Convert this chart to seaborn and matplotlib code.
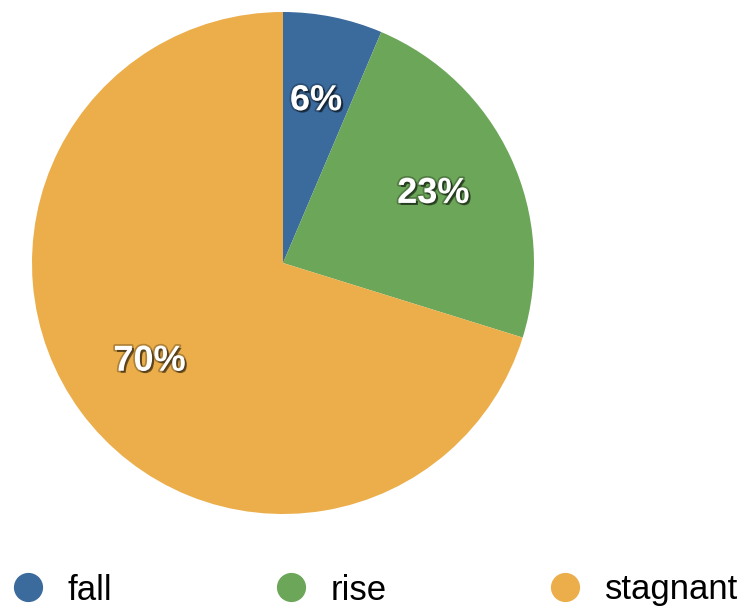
import matplotlib
matplotlib.use('Agg')
import matplotlib.pyplot as plt
import matplotlib.patheffects as pe
from matplotlib.lines import Line2D
import seaborn as sns

# data
labels = ['fall', 'rise', 'stagnant']
values = [6.4, 23.4, 70.2]
colors = ['#3b6a9c', '#6ca659', '#ebae4a']

sns.set_theme(style='white')
plt.rcParams['font.family'] = ['Liberation Sans', 'DejaVu Sans']

fig = plt.figure(figsize=(7.53, 6.11), dpi=100)
ax = fig.add_axes([32 / 753, 97 / 611, 502 / 753, 502 / 611])

wedges, texts, autotexts = ax.pie(
    values, colors=colors, startangle=90, counterclock=False,
    autopct=lambda p: f'{p:.0f}%', pctdistance=0.66,
    wedgeprops=dict(linewidth=0),
    textprops=dict(color='white', fontsize=26, fontweight='bold'))
ax.set_xlim(-1, 1)
ax.set_ylim(-1, 1)
ax.set_aspect('equal')

for t in autotexts:
    t.set_path_effects([
        pe.SimplePatchShadow(offset=(1.5, -1.5), shadow_rgbFace='black', alpha=0.5),
        pe.Stroke(linewidth=2.5, foreground='black', alpha=0.25),
        pe.Normal()])

# legend
handles = [Line2D([0], [0], marker='o', linestyle='', markersize=20,
                  markerfacecolor=c, markeredgecolor=c) for c in colors]
leg = fig.legend(handles, labels, loc='center left', bbox_to_anchor=(6 / 753, 1 - 590 / 611),
                 ncol=3, frameon=False, fontsize=25, handlelength=0.88,
                 handletextpad=0.7, columnspacing=4.7, borderaxespad=0, borderpad=0.2)
for t in leg.get_texts():
    t.set_color('black')

fig.savefig('out.png', dpi=100)
